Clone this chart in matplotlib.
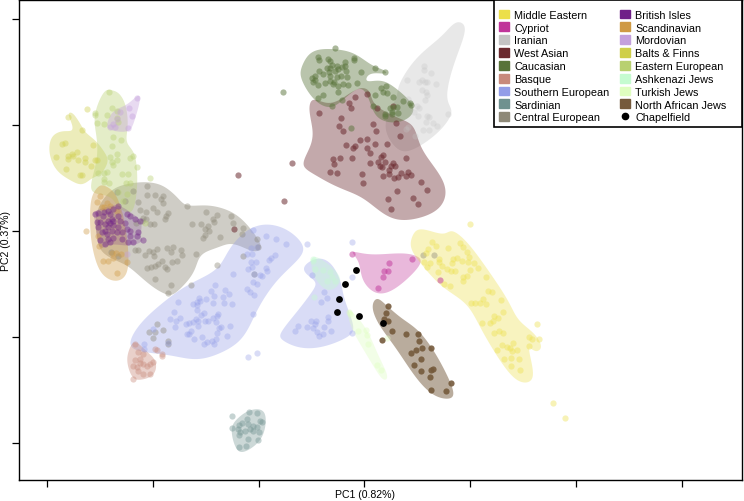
import numpy as np
import matplotlib
matplotlib.use("Agg")
import matplotlib.pyplot as plt
from matplotlib.patches import Patch, Rectangle
from matplotlib.lines import Line2D

plt.rcParams['font.family'] = ['Liberation Sans', 'DejaVu Sans']

# group names and legend colours
groups_left = ["Middle Eastern", "Cypriot", "Iranian", "West Asian", "Caucasian", "Basque",
               "Southern European", "Sardinian", "Central European"]
groups_right = ["British Isles", "Scandinavian", "Mordovian", "Balts & Finns", "Eastern European",
                "Ashkenazi Jews", "Turkish Jews", "North African Jews"]
colors = {"Middle Eastern": "#ecdf4a", "Cypriot": "#c0359a", "Iranian": "#c4c4c4", "West Asian": "#6b2a2f",
          "Caucasian": "#587339", "Basque": "#c88a7c", "Southern European": "#939de8", "Sardinian": "#6f918f",
          "Central European": "#8e8978", "British Isles": "#6f2088", "Scandinavian": "#cf9a44",
          "Mordovian": "#c4a0dc", "Balts & Finns": "#cfcf4a", "Eastern European": "#b8d070",
          "Ashkenazi Jews": "#c5fbd0", "Turkish Jews": "#dffec0", "North African Jews": "#755a3c"}

# hull outlines in picture pixels
hull_balts = [(68,115),(73,114),(81,126),(86,134),(96,142),(105,154),(108,163),(101,175),(92,179),(82,186),(70,181),(56,171),(49,153),(52,137),(63,132),(72,132),(72,125)]
hull_eastern = [(110,91),(119,94),(126,107),(128,127),(126,143),(134,153),(137,170),(137,190),(134,209),(128,214),(118,208),(110,197),(92,194),(92,180),(97,160),(97,140),(94,120),(99,102),(105,92)]
hull_mordovian = [(138,96),(140,102),(134,123),(128,133),(110,131),(107,125),(113,112),(127,106)]
hull_scand = [(103,186),(113,192),(119,203),(124,220),(128,247),(128,271),(121,281),(110,281),(99,271),(92,247),(90,223),(91,200),(97,189)]
hull_british = [(118,206),(130,213),(142,223),(140,237),(143,242),(130,247),(113,245),(105,248),(98,247),(95,220),(93,213),(107,208)]
hull_central = [(147,183),(164,187),(178,199),(187,207),(207,206),(228,211),(244,222),(258,240),(261,249),(253,253),(233,244),(217,249),(200,256),(194,274),(177,293),(167,296),(150,286),(133,271),(122,264),(102,254),(97,237),(96,213),(110,192),(127,185)]
hull_south1 = [(267,225),(288,231),(304,247),(298,261),(277,281),(258,309),(244,338),(223,353),(197,361),(170,356),(143,353),(129,346),(139,326),(160,306),(187,286),(217,271),(229,250),(247,231)]
hull_south2 = [(317,259),(331,264),(341,283),(344,300),(354,327),(348,338),(323,348),(300,349),(282,341),(281,333),(296,314),(312,293),(316,283),(306,275),(304,267)]
hull_basque = [(135,342),(146,352),(156,362),(154,376),(140,381),(132,378),(127,363),(129,351)]
hull_sardinian = [(250,411),(263,411),(266,423),(261,441),(245,453),(236,450),(231,430),(238,419)]
hull_ashkenazi = [(312,257),(324,262),(336,272),(341,283),(330,292),(319,285),(312,272)]
hull_turkish = [(347,309),(359,320),(369,335),(379,358),(388,377),(383,381),(374,368),(362,348),(351,328)]
hull_cypriot = [(351,252),(370,256),(400,254),(417,257),(421,265),(404,283),(387,294),(373,293),(362,280),(359,262)]
hull_naj = [(377,299),(386,306),(401,319),(418,331),(434,352),(448,378),(454,395),(448,400),(433,396),(416,379),(396,349),(379,326),(372,308)]
hull_middle = [(420,229),(443,236),(452,231),(468,244),(488,271),(508,301),(518,321),(534,334),(542,348),(535,353),(528,348),(534,375),(527,384),(512,378),(492,349),(479,326),(466,304),(442,288),(422,266),(411,250),(412,238)]
hull_west = [(313,99),(332,106),(357,89),(370,92),(374,106),(398,119),(414,127),(421,150),(441,177),(446,197),(434,214),(403,222),(382,214),(362,198),(337,188),(312,174),(302,164),(314,140),(309,113)]
hull_caucasian = [(312,52),(333,50),(354,54),(371,66),(384,71),(386,75),(370,74),(366,83),(382,81),(398,91),(414,107),(409,119),(393,124),(376,118),(369,100),(360,88),(343,101),(330,109),(314,101),(301,80),(302,67)]
hull_iranian = [(460,23),(466,32),(453,67),(446,100),(453,113),(438,134),(413,151),(398,151),(386,134),(387,117),(397,98),(399,85),(416,59),(440,39),(452,26)]

crop_nw = (30, 80)
crop_ne = (270, 10)
crop_sw = (120, 220)
crop_se = (300, 225)

balts = [(115,115),(155,153),(95,195),(105,192),(78,235),(115,230),(125,225),(140,218),(115,240),(130,232),(145,242),(165,238),(165,250),(200,243),(195,242),(188,197),(183,260),(109,270),(150,288),(155,288),(170,90)]
eastern = [(237,40),(196,103),(202,132),(222,135),(232,107),(245,88),(262,95),(262,117),(265,130),(248,175),(272,182),(245,200),(241,235),(260,224),(262,243),(245,250),(250,258),(300,237),(310,230),(321,263),(275,285),(293,285),(205,283),(222,282),(232,280),(222,300),(222,310),(237,312),(287,312),(300,312),(280,365),(290,345),(265,340),(345,432),(360,297),(195,107)]
mordovian = [(322,57),(298,87),(307,112),(270,100),(262,120),(240,143),(295,147),(255,145),(248,135),(290,525)]
scand = [(210,350),(202,370),(232,373),(222,385),(168,455),(208,500),(218,547),(235,545),(248,537),(262,583),(290,550),(245,522),(258,522),(272,525),(205,470),(215,385),(240,380),(260,395)]
british = [(195,405),(205,403),(222,398),(235,395),(250,390),(265,382),(240,405),(265,410),(220,412),(210,430),(225,435),(240,432),(250,438),(235,445),(225,455),(245,455),(265,445),(285,432),(300,410),(315,420),(330,425),(290,450),(275,460),(260,460),(300,470),(320,470),(340,483),(310,490),(295,490),(275,480),(250,478),(240,490),(225,495),(210,482),(235,480),(230,465),(215,460),(200,430),(205,445),(250,425),(290,405),(325,460),(300,455),(270,425),(235,425),(245,420)]
central = [(350,320),(310,337),(352,347),(375,348),(400,352),(393,360),(398,372),(323,370),(368,388),(380,398),(347,400),(330,393),(340,418),(348,420),(337,425),(318,432),(360,435),(373,436),(405,420),(415,403),(408,410),(472,381),(528,400),(548,420),(562,407),(553,428),(603,410),(610,432),(485,434),(514,434),(535,440),(525,450),(537,456),(525,468),(520,478),(570,473),(638,448),(636,466),(680,481),(683,505),(498,525),(640,532),(315,513),(325,513),(345,528),(358,515),(368,520),(380,510),(372,530),(410,507),(430,505),(422,520),(452,513),(455,527),(440,545),(425,548),(397,545),(385,555),(405,563),(410,570),(375,562),(362,565),(350,568),(375,600),(423,617),(415,643),(482,617),(560,558),(672,585),(285,365),(262,340),(243,520),(265,530)]
central_sw = [(111,314),(128,332),(104,340),(86,338),(99,358),(143,365),(143,375)]
central_se = [(370,92),(401,92)]
south1 = [(437,52),(468,60),(498,75),(562,75),(398,33),(380,105),(397,105),(393,88),(410,85),(464,108),(447,123),(452,118),(395,145),(407,128),(393,130),(384,150),(437,147),(441,155),(421,167),(426,172),(403,165),(339,165),(398,188),(410,196),(380,210),(389,220),(402,228),(285,197),(274,215),(315,212),(328,225),(282,230),(310,233),(259,240),(238,237),(231,250),(241,245),(220,255),(230,257),(173,250),(162,279),(280,253),(313,252),(336,255),(232,272),(252,282),(242,287),(294,285),(290,290),(398,284),(151,300),(167,305),(180,297),(228,300),(235,305),(255,305),(265,305),(280,298),(198,315),(208,312),(220,308),(235,320),(289,310),(302,325),(296,328),(331,321),(166,323),(99,330),(206,345),(214,335),(222,360),(245,355),(292,343),(287,360),(322,352),(260,368),(252,376),(275,366),(283,374),(72,375),(72,391),(143,372),(385,413),(412,403),(200,345)]
south2 = [(575,168),(612,218),(620,238),(602,250),(625,295),(623,305),(573,307),(587,307),(585,314),(533,320),(561,324),(578,326),(524,337),(590,340),(612,325),(632,335),(608,345),(597,352),(697,70),(697,174),(695,343)]
basque = [(45,375),(55,398),(70,405),(105,390),(112,393),(45,422),(60,432),(68,435),(80,440),(90,435),(100,428),(40,440),(50,445),(55,455),(70,465),(90,465),(40,481),(127,405),(127,412),(60,420)]
sardinian = [(337,590),(387,580),(410,583),(380,600),(420,605),(425,608),(367,613),(357,618),(383,615),(398,620),(410,625),(400,635),(337,628),(355,630),(375,635),(418,640),(358,648),(383,660),(413,663),(378,680),(356,683),(360,640),(390,630)]
ashkenazi = [(40,105),(45,135),(70,137),(90,145),(105,170),(80,170),(95,160),(42,220),(40,112)]
turkish = [(148,265),(173,322),(198,318),(200,332),(205,360),(230,422),(243,437),(262,341),(150,270)]
cypriot = [(157,90),(268,117),(252,140),(265,140),(250,160),(233,192),(335,105),(420,167)]
naj = [(263,245),(259,268),(252,285),(263,290),(245,348),(277,320),(319,329),(355,330),(357,351),(367,372),(392,371),(348,378),(334,388),(364,405),(341,423),(364,440),(392,438),(398,436),(390,459),(453,478),(438,500),(393,499)]
middle = [(397,55),(407,67),(383,75),(378,88),(372,115),(390,117),(380,128),(443,73),(480,58),(488,70),(500,85),(507,98),(487,110),(505,115),(522,118),(533,131),(510,137),(470,102),(458,105),(455,118),(418,105),(418,115),(425,125),(440,135),(453,140),(465,140),(415,143),(433,180),(449,185),(488,170),(500,155),(490,160),(557,158),(565,200),(577,205),(603,228),(550,225),(558,240),(514,237),(526,237),(539,237),(610,263),(583,277),(593,281),(570,297),(578,292),(547,297),(583,327),(597,321),(608,327),(639,358),(605,363),(620,368),(630,373),(635,381),(652,379),(592,377),(613,406),(632,402),(658,404),(632,427),(659,437),(686,338),(695,344),(710,301),(718,345),(688,365),(758,538),(795,582),(510,0)]
west = [(147,312),(213,326),(237,283),(243,296),(255,264),(292,254),(207,352),(218,366),(308,344),(319,367),(378,342),(390,381),(269,394),(291,390),(315,406),(351,405),(228,409),(248,418),(254,412),(290,416),(299,431),(189,449),(211,446),(246,446),(192,465),(180,490),(201,491),(300,463),(275,494),(279,522),(325,458),(332,445),(340,438),(345,458),(330,470),(336,474),(362,470),(370,463),(375,470),(358,483),(356,495),(340,501),(373,506),(385,505),(392,492),(408,500),(415,490),(424,497),(409,447),(454,518),(471,543),(380,545),(353,569),(363,601),(429,567),(443,586),(67,463),(42,575),(321,297),(368,290)]
west_nw = [(625,288),(613,450)]
caucasian = [(195,118),(143,143),(148,152),(173,150),(180,155),(224,160),(253,147),(252,153),(185,167),(172,178),(180,178),(200,170),(205,180),(215,175),(225,170),(228,185),(148,186),(160,195),(178,190),(195,187),(213,200),(230,205),(180,200),(200,205),(135,200),(125,207),(135,212),(128,218),(143,227),(165,222),(180,215),(190,225),(205,230),(220,225),(235,228),(262,222),(273,190),(314,177),(345,190),(205,248),(160,257),(145,268),(215,272),(185,290),(40,250),(244,358),(333,237),(348,232),(315,257),(340,250),(350,253),(368,265),(398,277),(420,283),(423,288),(310,292),(360,298),(370,293),(380,295),(365,310),(385,312),(345,315),(345,322),(365,315),(193,220)]
iranian = [(463,172),(462,182),(482,193),(411,212),(457,212),(447,220),(466,218),(472,220),(498,225),(455,243),(468,248),(472,257),(464,273),(433,310),(448,298),(445,320),(470,322),(477,323),(468,340),(490,342),(500,352),(534,316),(458,362),(478,362),(415,355),(408,360),(415,270),(440,290),(435,380)]
chapelfield = [(169,137),(135,180),(116,226),(112,264),(178,276),(248,298)]


# picture pixels -> PC units (one unit = one tick interval, no labels on the ticks)
def to_pc(px):
    px = np.asarray(px, dtype=float)
    return np.column_stack([(px[:, 0] - 47) / 105.83, (232 - px[:, 1]) / 106.0])


def from_crop(points, origin):
    return to_pc(np.asarray(points, dtype=float) / 3 + origin)


# closed catmull-rom, then a short circular average so the hulls come out rounded
def smooth_hull(pts, n=12):
    p = np.asarray(pts, dtype=float)
    t = np.linspace(0, 1, n, endpoint=False)[:, None]
    out = []
    for i in range(len(p)):
        p0, p1, p2, p3 = p[i - 1], p[i], p[(i + 1) % len(p)], p[(i + 2) % len(p)]
        out.append(0.5 * (2 * p1 + (p2 - p0) * t + (2 * p0 - 5 * p1 + 4 * p2 - p3) * t ** 2
                          + (3 * p1 - p0 - 3 * p2 + p3) * t ** 3))
    out = np.vstack(out)
    kernel = np.ones(n + 1) / (n + 1)
    wrapped = np.vstack([out[-n:], out, out[:n]])
    return np.column_stack([np.convolve(wrapped[:, k], kernel, mode="same")[n:-n] for k in range(2)])


fig = plt.figure(figsize=(7.44, 5.02), dpi=100)
ax = fig.add_axes([18.5 / 744, 1 - 481 / 502, (742 - 18.5) / 744, 480 / 502])
ax.set_xlim((18.5 - 47) / 105.83, (742 - 47) / 105.83)
ax.set_ylim((232 - 481) / 106.0, (232 - 1) / 106.0)

hulls = [("Iranian", hull_iranian), ("West Asian", hull_west), ("Caucasian", hull_caucasian),
         ("Central European", hull_central), ("Southern European", hull_south1), ("Southern European", hull_south2),
         ("Basque", hull_basque), ("Sardinian", hull_sardinian), ("Balts & Finns", hull_balts),
         ("Eastern European", hull_eastern), ("Mordovian", hull_mordovian), ("Scandinavian", hull_scand),
         ("British Isles", hull_british), ("Ashkenazi Jews", hull_ashkenazi), ("Turkish Jews", hull_turkish),
         ("Cypriot", hull_cypriot), ("North African Jews", hull_naj), ("Middle Eastern", hull_middle)]
hull_alpha = {"Iranian": 0.38, "West Asian": 0.4, "Caucasian": 0.42, "Central European": 0.42, "Southern European": 0.35,
              "Sardinian": 0.35, "Basque": 0.4, "North African Jews": 0.5, "Cypriot": 0.35, "Middle Eastern": 0.35,
              "British Isles": 0.2}
for name, hull in hulls:
    xy = to_pc(smooth_hull(hull))
    ax.fill(xy[:, 0], xy[:, 1], color=colors[name], alpha=hull_alpha.get(name, 0.38), lw=0, zorder=1)

samples = [("Iranian", iranian, crop_ne), ("West Asian", west, crop_ne), ("West Asian", west_nw, crop_nw),
           ("Caucasian", caucasian, crop_ne), ("Central European", central, crop_nw),
           ("Central European", central_sw, crop_sw), ("Central European", central_se, crop_se),
           ("Southern European", south1, crop_sw), ("Southern European", south2, crop_sw),
           ("Basque", basque, crop_sw), ("Sardinian", sardinian, crop_sw), ("Balts & Finns", balts, crop_nw),
           ("Eastern European", eastern, crop_nw), ("Mordovian", mordovian, crop_nw), ("Scandinavian", scand, crop_nw),
           ("British Isles", british, crop_nw), ("Ashkenazi Jews", ashkenazi, crop_se), ("Turkish Jews", turkish, crop_se),
           ("Cypriot", cypriot, crop_se), ("North African Jews", naj, crop_se), ("Middle Eastern", middle, crop_se)]
point_alpha = {"North African Jews": 0.9, "British Isles": 0.42, "West Asian": 0.55, "Caucasian": 0.5, "Iranian": 0.3,
               "Central European": 0.42, "Southern European": 0.35, "Cypriot": 0.5}
for name, pts, origin in samples:
    xy = from_crop(pts, origin)
    ax.scatter(xy[:, 0], xy[:, 1], s=20, color=colors[name], alpha=point_alpha.get(name, 0.4), lw=0, zorder=2)

xy = from_crop(chapelfield, crop_se)
ax.scatter(xy[:, 0], xy[:, 1], s=24, color="black", lw=0, zorder=3)

ax.set_xticks(range(0, 7))
ax.set_yticks(range(-2, 3))
ax.set_xticklabels([])
ax.set_yticklabels([])
ax.tick_params(length=5, width=0.9, direction="out")
for s in ax.spines.values():
    s.set_linewidth(1.0)
fig.text(365 / 744, 1 - 495 / 502, "PC1 (0.82%)", fontsize=7.6, ha="center", va="center")
fig.text(6 / 744, 1 - 241 / 502, "PC2 (0.37%)", fontsize=7.6, ha="center", va="center", rotation=90)

# legend frame is wider than the entries, so it is drawn on its own
fig.add_artist(Rectangle((494 / 744, 1 - 128 / 502), 248 / 744, 127 / 502, transform=fig.transFigure,
                         facecolor="white", edgecolor="black", lw=1.2, zorder=4))
handles = [Patch(color=colors[g], label=g) for g in groups_left]
handles += [Patch(color=colors[g], label=g) for g in groups_right]
handles.append(Line2D([], [], marker="o", color="black", ls="", ms=4.5, label="Chapelfield"))
leg = fig.legend(handles=handles, ncol=2, loc="upper left", bbox_to_anchor=(499 / 744, 1 - 10.5 / 502),
                 bbox_transform=fig.transFigure, borderaxespad=0, borderpad=0,
                 fontsize=7.8, handlelength=0.9, handleheight=0.9, handletextpad=0.5, labelspacing=0.24,
                 columnspacing=1.0, frameon=False)
leg.set_zorder(5)

fig.savefig("out.png", dpi=100)
